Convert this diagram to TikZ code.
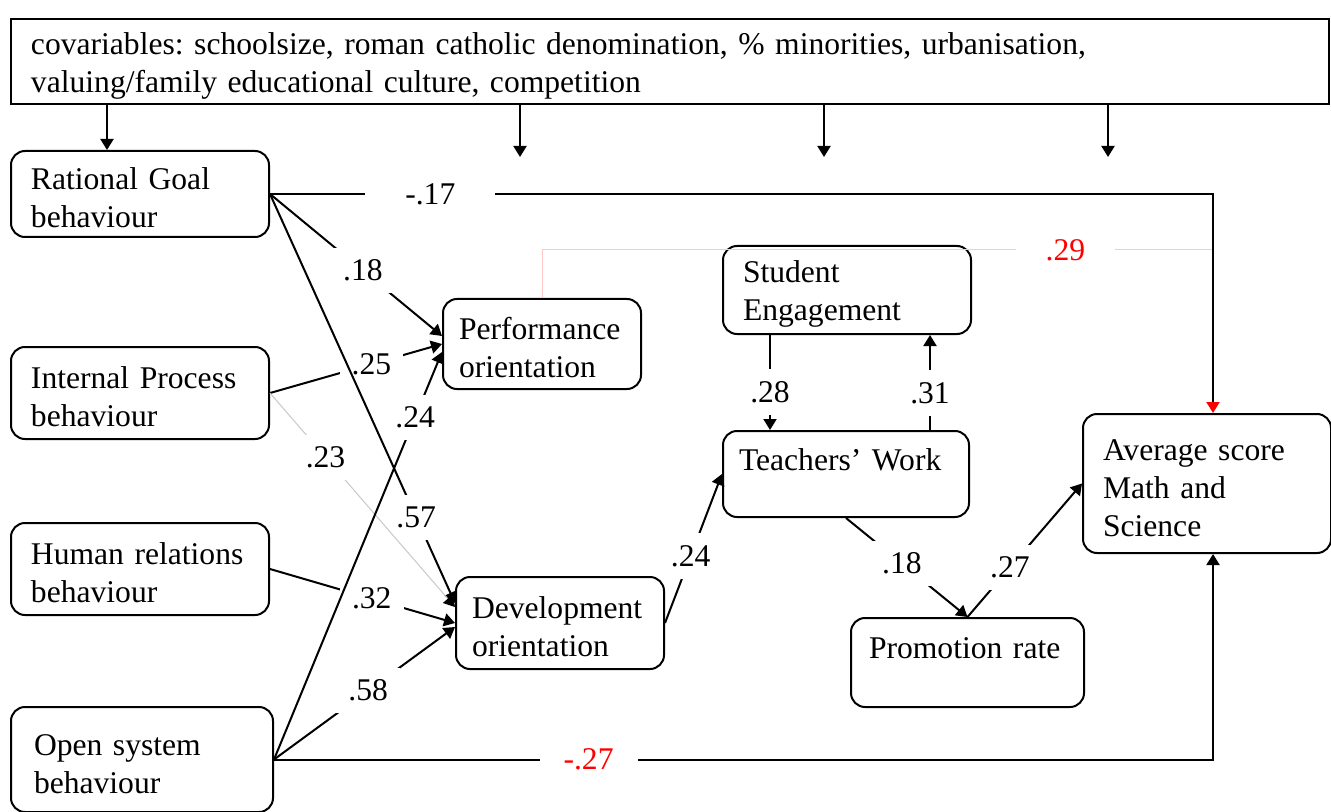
\documentclass[tikz,border=0pt]{standalone}
\usepackage{fontspec}
\setmainfont{Liberation Serif}
\usetikzlibrary{arrows.meta}
\definecolor{lightred}{RGB}{255,200,200}
\definecolor{lightgrey}{RGB}{200,200,200}

\begin{document}
\frenchspacing
\begin{tikzpicture}[x=0.5pt,y=-0.5pt,font=\fontsize{15.8pt}{19pt}\selectfont]
\tikzstyle{box}=[draw,line width=1pt,rounded corners=7pt,anchor=north west,align=left,inner xsep=10pt,inner ysep=2pt,execute at begin node={\rule{0pt}{15pt}}]
\tikzstyle{arr}=[line width=1pt,-{Triangle[length=5.5pt,width=6.5pt]}]
\tikzstyle{val}=[fill=white,inner sep=6pt]
\useasboundingbox (0,0) rectangle (1331,812);

%covariables on top
\node[box,sharp corners,text width=639pt,minimum height=42.5pt] (cov) at (10,18) {covariables: schoolsize, roman catholic denomination, \% minorities, urbanisation,\\valuing/family educational culture, competition};

%boxes on the left
\node[box,text width=109pt,minimum height=43pt] (rg) at (10,150) {Rational Goal\\behaviour};
\node[box,text width=109pt,minimum height=46pt] (ip) at (10,346) {Internal Process\\behaviour};
\node[box,text width=109pt,minimum height=46pt] (hr) at (10,522) {Human relations\\behaviour};
\node[box,text width=108pt,minimum height=52.5pt,inner xsep=11.5pt] (os) at (10,706) {Open system\\behaviour};

%boxes in the middle and on the right
\node[box,text width=83pt,minimum height=45pt,inner xsep=8pt] (perf) at (442,298) {Performance\\orientation};
\node[box,text width=88pt,minimum height=46pt,inner xsep=8pt] (dev) at (455,576) {Development\\orientation};
\node[box,text width=104pt,minimum height=44pt] (se) at (722,245) {Student\\Engagement};
\node[box,text width=107pt,minimum height=43pt,inner xsep=8pt] (tw) at (722,430) {Teachers’ Work\\ \mbox{}};
\node[box,text width=98.5pt,minimum height=44.5pt,inner xsep=9pt] (pr) at (850,617) {Promotion rate\\ \mbox{}};
\node[box,text width=104pt,minimum height=69.5pt,execute at begin node={}] (avg) at (1082,413) {Average score\\Math and\\Science};

\coordinate (jn) at (1213,250);

%arrows from the covariables
\draw[arr] (cov.south -| 107,0) -- (rg.north -| 107,0);
\foreach \cx in {520,824,1108}
  \draw[arr] (cov.south -| \cx,0) -- ++(0,52);

%paths to performance and development
\draw[arr] (ip.east) -- node[val,pos=0.59]{.25} (perf.west);
\draw[arr] (rg.east) -- node[val,pos=0.54]{.18} ([yshift=4pt]perf.west);
\draw[lightred,line width=0.5pt] (perf.north) -- (perf.north |- jn) -- node[val,pos=0.78,inner xsep=15pt,text=red]{.29} (jn);
\draw[arr,-{Triangle[length=5.5pt,width=6.5pt,color=red]}] (rg.east) -- node[val,pos=0.17,inner xsep=20pt]{-.17} (rg.east -| jn) -- (jn |- avg.north);
\draw[arr] (rg.east) -- node[val,pos=0.79]{.57} ([yshift=10pt]dev.west);
\draw[lightgrey,line width=0.5pt,-{Triangle[length=5.5pt,width=6.5pt,color=black]}] (ip.east) -- node[val,pos=0.3,text=black]{.23} ([yshift=8pt]dev.west);
\draw[arr] (hr.east) -- node[val,pos=0.55]{.32} (dev.west);
\draw[arr] (os.east) -- node[val,pos=0.84]{.24} ([yshift=-4pt]perf.west);
\draw[arr] (os.east) -- node[val,pos=0.52]{.58} ([yshift=-2pt]dev.west);
\draw[arr] (os.east) -- node[val,pos=0.335,inner xsep=12pt,text=red]{-.27} (os.east -| jn) -- (jn |- avg.south);

%paths on the right
\coordinate (a28) at ([xshift=24pt]se.south west);
\coordinate (a31) at ([xshift=-20pt]tw.north east);
\draw[arr] (dev.east) -- node[val,pos=0.45]{.24} (tw.west);
\draw[arr] (a28) -- node[val,pos=0.6,inner xsep=2pt]{.28} (a28 |- tw.north);
\draw[arr] (a31) -- node[val,pos=0.39,inner xsep=2pt]{.31} (a31 |- se.south);
\draw[arr] (tw.south) -- node[val,pos=0.46]{.18} (pr.north);
\draw[arr] (pr.north) -- node[val,pos=0.37]{.27} (avg.west);
\end{tikzpicture}
\end{document}
